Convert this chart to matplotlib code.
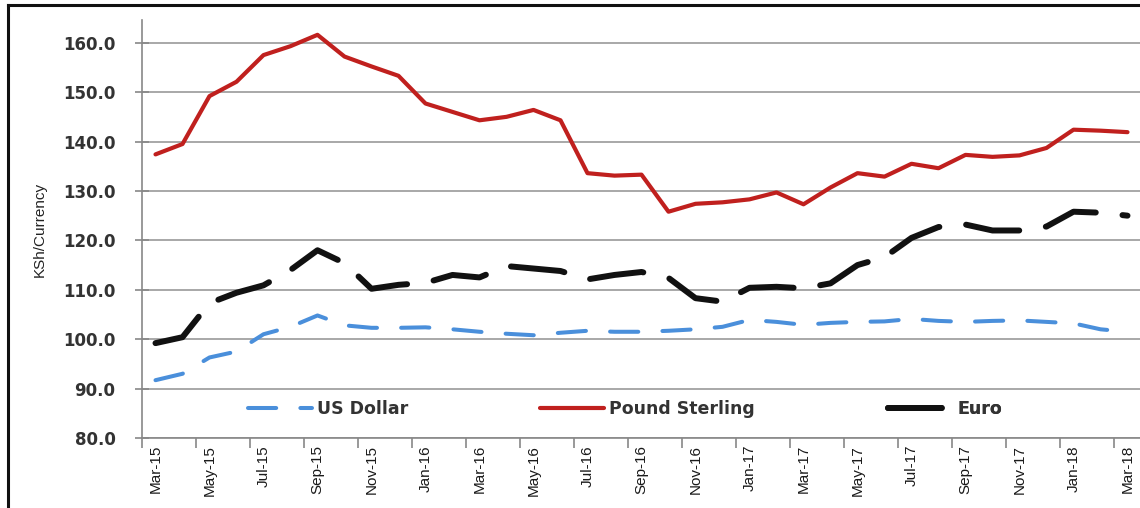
import numpy as np
import matplotlib.pyplot as plt
from matplotlib.lines import Line2D
from matplotlib.ticker import FixedLocator, NullFormatter

months = ["Mar-15", "Apr-15", "May-15", "Jun-15", "Jul-15", "Aug-15", "Sep-15", "Oct-15",
          "Nov-15", "Dec-15", "Jan-16", "Feb-16", "Mar-16", "Apr-16", "May-16", "Jun-16",
          "Jul-16", "Aug-16", "Sep-16", "Oct-16", "Nov-16", "Dec-16", "Jan-17", "Feb-17",
          "Mar-17", "Apr-17", "May-17", "Jun-17", "Jul-17", "Aug-17", "Sep-17", "Oct-17",
          "Nov-17", "Dec-17", "Jan-18", "Feb-18", "Mar-18"]

us_dollar = [91.7, 93.0, 96.3, 97.5, 101.0, 102.5, 104.8, 102.8, 102.3, 102.3, 102.4, 102.0,
             101.5, 101.1, 100.8, 101.3, 101.7, 101.5, 101.5, 101.7, 102.0, 102.5, 103.9, 103.5,
             102.9, 103.3, 103.5, 103.6, 104.1, 103.7, 103.5, 103.7, 103.8, 103.5, 103.2, 102.0,
             101.5]

pound = [137.4, 139.5, 149.2, 152.1, 157.5, 159.3, 161.6, 157.2, 155.2, 153.3, 147.7, 146.0,
         144.3, 145.0, 146.4, 144.3, 133.6, 133.1, 133.3, 125.8, 127.4, 127.7, 128.3, 129.7,
         127.3, 130.7, 133.6, 132.9, 135.5, 134.6, 137.3, 136.9, 137.2, 138.7, 142.4, 142.2,
         141.9]

euro = [99.2, 100.4, 107.3, 109.4, 110.9, 114.0, 118.0, 115.4, 110.2, 111.0, 111.4, 113.0,
        112.5, 114.8, 114.3, 113.8, 112.1, 113.0, 113.6, 112.4, 108.3, 107.6, 110.4, 110.6,
        110.3, 111.3, 115.0, 116.6, 120.5, 122.7, 123.2, 122.0, 122.0, 122.8, 125.8, 125.6,
        125.0]

x = np.arange(len(months))

fig = plt.figure(figsize=(11.4, 5.08), dpi=100)
ax = fig.add_axes([142 / 1140, 70 / 508, 999 / 1140, 418 / 508])

ln_usd, = ax.plot(x, us_dollar, color="#4a8fdb", lw=2.9, dashes=(7, 6),
                  dash_capstyle="round", label="US Dollar", zorder=3)
ln_gbp, = ax.plot(x, pound, color="#c0201e", lw=3.0, solid_capstyle="round",
                  label="Pound Sterling", zorder=3)
ln_eur, = ax.plot(x, euro, color="#111111", lw=4.3, dashes=(9, 4.5),
                  dash_capstyle="round", label="Euro", zorder=3)

ax.set_xlim(-0.5, len(months) - 0.5)
ax.set_ylim(80, 164.6)
ax.set_yticks(np.arange(80, 161, 10))
ax.set_yticklabels(["%.1f" % v for v in np.arange(80, 161, 10)])

# tick marks between categories, labels on every second month
ax.xaxis.set_major_locator(FixedLocator(np.arange(-0.5, len(months), 2)))
ax.xaxis.set_major_formatter(NullFormatter())
ax.xaxis.set_minor_locator(FixedLocator(x[::2]))
ax.set_xticklabels(months[::2], minor=True, rotation=90,
                   fontfamily="Liberation Sans", fontsize=11, color="#1a1a1a")
ax.tick_params(axis="x", which="major", direction="out", length=7, width=1.2, color="#888888")
ax.tick_params(axis="x", which="minor", length=0, pad=5)
ax.tick_params(axis="y", direction="inout", length=10, width=1.2, color="#888888",
               labelsize=12, labelcolor="#333333", pad=14)
for lab in ax.get_yticklabels():
    lab.set_fontweight("bold")

ax.grid(axis="y", color="#9a9a9a", lw=1.2)
ax.set_axisbelow(True)
for side in ["top", "right"]:
    ax.spines[side].set_visible(False)
for side in ["left", "bottom"]:
    ax.spines[side].set_color("#888888")
    ax.spines[side].set_linewidth(1.2)

ax.set_ylabel("KSh/Currency", fontfamily="Liberation Sans", fontsize=11,
              color="#222222", labelpad=12)

# legend entries placed separately, as in the reference
spots = [(ln_usd, 0.106), (ln_gbp, 0.398), (ln_eur, 0.747)]
for handle, xpos in spots:
    leg = ax.legend(handles=[handle], loc="center left", bbox_to_anchor=(xpos, 0.069),
                    frameon=False, borderpad=0, borderaxespad=0, handlelength=3.7,
                    handletextpad=0.3, prop={"size": 12.5, "weight": "bold"})
    for t in leg.get_texts():
        t.set_color("#333333")
    ax.add_artist(leg)

# scanned page frame
fig.add_artist(Line2D([8 / 1140, 8 / 1140], [0, 1 - 5 / 508], color="#111111", lw=2.2))
fig.add_artist(Line2D([8 / 1140, 1], [1 - 5 / 508, 1 - 5 / 508], color="#111111", lw=2.2))

fig.savefig("out.png", dpi=100, facecolor="white")
